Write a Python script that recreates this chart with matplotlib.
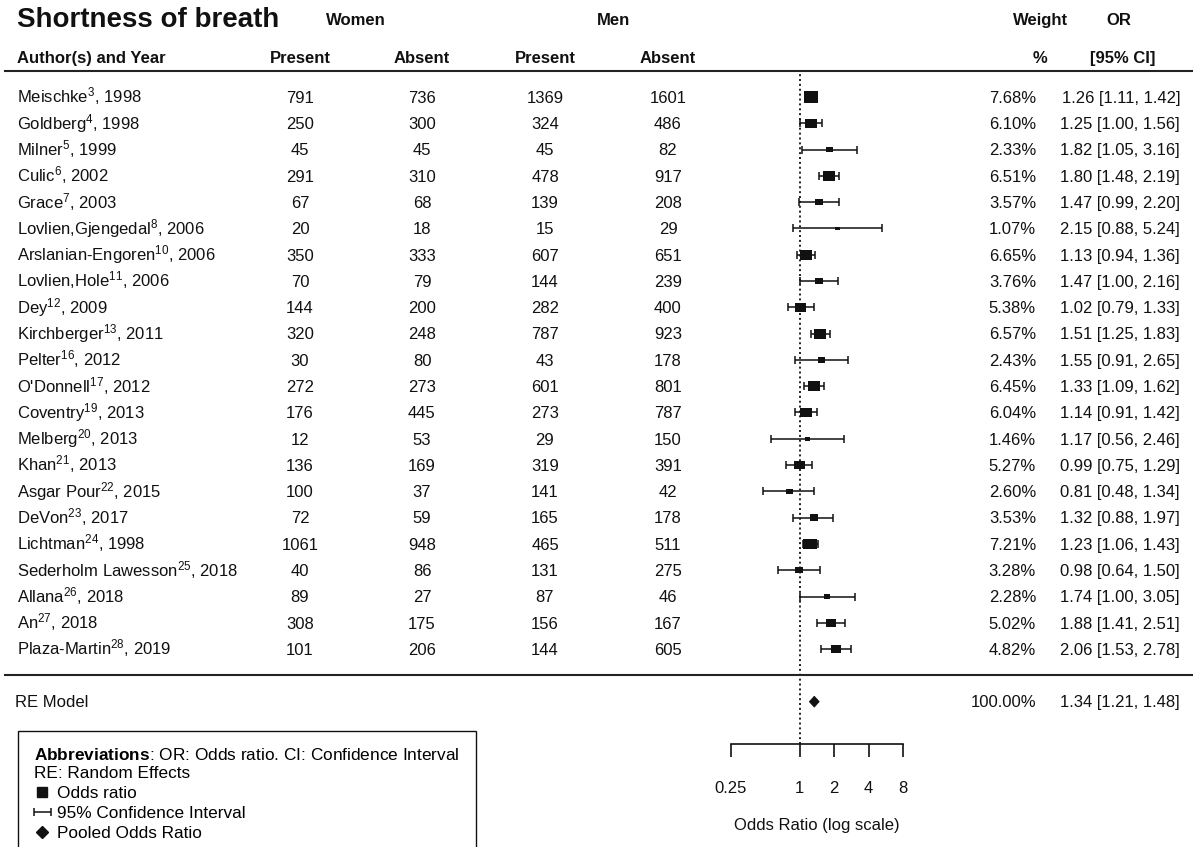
import matplotlib

matplotlib.use("Agg")
import matplotlib.pyplot as plt
import numpy as np
from matplotlib.lines import Line2D
from matplotlib.ticker import FixedLocator, NullLocator
from matplotlib.transforms import blended_transform_factory

# ---- data -----------------------------------------------------------------
authors = [
    "Meischke", "Goldberg", "Milner", "Culic", "Grace", "Lovlien,Gjengedal",
    "Arslanian-Engoren", "Lovlien,Hole", "Dey", "Kirchberger", "Pelter",
    "O'Donnell", "Coventry", "Melberg", "Khan", "Asgar Pour", "DeVon",
    "Lichtman", "Sederholm Lawesson", "Allana", "An", "Plaza-Martin",
]
ref_nums = [3, 4, 5, 6, 7, 8, 10, 11, 12, 13, 16, 17, 19, 20, 21, 22, 23, 24, 25, 26, 27, 28]
years = [1998, 1998, 1999, 2002, 2003, 2006, 2006, 2006, 2009, 2011, 2012,
         2012, 2013, 2013, 2013, 2015, 2017, 1998, 2018, 2018, 2018, 2019]

women_present = [791, 250, 45, 291, 67, 20, 350, 70, 144, 320, 30, 272, 176, 12, 136, 100, 72, 1061, 40, 89, 308, 101]
women_absent = [736, 300, 45, 310, 68, 18, 333, 79, 200, 248, 80, 273, 445, 53, 169, 37, 59, 948, 86, 27, 175, 206]
men_present = [1369, 324, 45, 478, 139, 15, 607, 144, 282, 787, 43, 601, 273, 29, 319, 141, 165, 465, 131, 87, 156, 144]
men_absent = [1601, 486, 82, 917, 208, 29, 651, 239, 400, 923, 178, 801, 787, 150, 391, 42, 178, 511, 275, 46, 167, 605]

weights = [7.68, 6.10, 2.33, 6.51, 3.57, 1.07, 6.65, 3.76, 5.38, 6.57, 2.43,
           6.45, 6.04, 1.46, 5.27, 2.60, 3.53, 7.21, 3.28, 2.28, 5.02, 4.82]
odds = [1.26, 1.25, 1.82, 1.80, 1.47, 2.15, 1.13, 1.47, 1.02, 1.51, 1.55,
        1.33, 1.14, 1.17, 0.99, 0.81, 1.32, 1.23, 0.98, 1.74, 1.88, 2.06]
ci_low = [1.11, 1.00, 1.05, 1.48, 0.99, 0.88, 0.94, 1.00, 0.79, 1.25, 0.91,
          1.09, 0.91, 0.56, 0.75, 0.48, 0.88, 1.06, 0.64, 1.00, 1.41, 1.53]
ci_high = [1.42, 1.56, 3.16, 2.19, 2.20, 5.24, 1.36, 2.16, 1.33, 1.83, 2.65,
           1.62, 1.42, 2.46, 1.29, 1.34, 1.97, 1.43, 1.50, 3.05, 2.51, 2.78]

re_weight = 100.00
re_odds, re_low, re_high = 1.34, 1.21, 1.48

x_ticks = [0.25, 1, 2, 4, 8]
x_ticklabels = ["0.25", "1", "2", "4", "8"]

# ---- style ------------------------------------------------------------------
W_PX, H_PX = 1193, 847
TEXT = "#111111"
FS = 12
ROW_PX = 26.29
FIRST_ROW_PX = 97
BASE = 5.8 / ROW_PX  # baseline offset so text sits centred on a row

plt.rcParams["font.family"] = ["Liberation Sans", "DejaVu Sans"]
plt.rcParams["mathtext.fontset"] = "custom"
plt.rcParams["mathtext.rm"] = "Liberation Sans"
plt.rcParams["mathtext.it"] = "Liberation Sans:italic"
plt.rcParams["mathtext.bf"] = "Liberation Sans:bold"
plt.rcParams["mathtext.default"] = "rm"


def fx(px):
    return px / W_PX


k = len(authors)
rows = np.arange(k, 0, -1)
last_row_px = FIRST_ROW_PX + (k - 1) * ROW_PX


def py(px):
    # pixel row in the picture -> y data coordinate
    return 1 + (last_row_px - px) / ROW_PX


fig = plt.figure(figsize=(W_PX / 100, H_PX / 100), dpi=100)
fig.patch.set_facecolor("white")

AX_L, AX_R, AX_B = 731, 903, 744
ax = fig.add_axes([fx(AX_L), 1 - AX_B / H_PX, fx(AX_R - AX_L), AX_B / H_PX])
ax.patch.set_visible(False)
ax.set_xscale("log", base=2)
ax.set_xlim(0.25, 8)
ax.set_ylim(py(AX_B), py(0))

odds_a = np.array(odds)
xerr = [odds_a - np.array(ci_low), np.array(ci_high) - odds_a]
eb = ax.errorbar(odds_a, rows, xerr=xerr, fmt="none", ecolor=TEXT, elinewidth=1.1,
                 capsize=2.9, capthick=1.1, clip_on=False, zorder=2)
for art in eb.get_children():
    art.set_clip_on(False)

# square size follows the weight (cex 0.5 .. 1.5 as in metafor)
w = np.array(weights)
cex = 0.5 + (w - w.min()) / (w.max() - w.min())
side_pt = 14.0 * cex / 1.5 * 0.72
rect = [(-0.62, -0.5), (0.62, -0.5), (0.62, 0.5), (-0.62, 0.5), (-0.62, -0.5)]
ax.scatter(odds_a, rows, s=side_pt ** 2, marker=rect, c=TEXT, linewidths=0,
           clip_on=False, zorder=3)

# pooled estimate diamond
re_row = -1
half_h = 5.5 / ROW_PX
ax.fill([re_low, re_odds, re_high, re_odds],
        [re_row, re_row + half_h, re_row, re_row - half_h],
        color=TEXT, lw=0.5, clip_on=False, zorder=3)

# reference line at OR = 1
ax.plot([1, 1], [py(AX_B), 23], color=TEXT, lw=1.3, ls=(0, (1.1, 1.6)),
        clip_on=False, zorder=1)

# horizontal rules across the table
T = blended_transform_factory(fig.transFigure, ax.transData)
for yy in (23, 0):
    ax.plot([fx(5), 1], [yy, yy], color="#222222", lw=1.5, transform=T, clip_on=False)

for side in ("top", "right", "left"):
    ax.spines[side].set_visible(False)
ax.spines["bottom"].set_linewidth(1.2)
ax.spines["bottom"].set_color(TEXT)
ax.xaxis.set_major_locator(FixedLocator(x_ticks))
ax.xaxis.set_minor_locator(NullLocator())
ax.set_xticklabels(x_ticklabels)
ax.set_yticks([])
ax.tick_params(axis="x", length=9.4, width=1.2, pad=17, labelsize=FS, colors=TEXT)
ax.set_xlabel("Odds Ratio (log scale)", fontsize=FS, color=TEXT, labelpad=16)

# ---- table text ---------------------------------------------------------------
COL_AUTHOR = 17
COL_WP, COL_WA, COL_MP, COL_MA = 300, 422, 545, 668
COL_WEIGHT_R = 1036
COL_OR_R = 1180

fig.text(fx(17), 1 - 20 / H_PX, "Shortness of breath", fontsize=20,
         fontweight="bold", va="center", color=TEXT)

h1, h2 = 24.95, 23.5
bold = dict(fontsize=FS, fontweight="bold", color=TEXT, transform=T, va="baseline")
ax.text(fx(356), h1 - BASE, "Women", ha="center", **bold)
ax.text(fx(613), h1 - BASE, "Men", ha="center", **bold)
ax.text(fx(1041), h1 - BASE, "Weight", ha="center", **bold)
ax.text(fx(1119), h1 - BASE, "OR", ha="center", **bold)
ax.text(fx(COL_AUTHOR), h2 - BASE, "Author(s) and Year", ha="left", **bold)
for cx, lab in zip((COL_WP, COL_WA, COL_MP, COL_MA), ("Present", "Absent", "Present", "Absent")):
    ax.text(fx(cx), h2 - BASE, lab, ha="center", **bold)
ax.text(fx(1040), h2 - BASE, "%", ha="center", **bold)
ax.text(fx(1123), h2 - BASE, "[95% CI]", ha="center", **bold)

reg = dict(fontsize=FS, color=TEXT, transform=T, va="baseline")
for i, r in enumerate(rows):
    yb = r - BASE
    ax.text(fx(COL_AUTHOR), yb, f"{authors[i]}$^{{{ref_nums[i]}}}$, {years[i]}", ha="left", **reg)
    for cx, vals in zip((COL_WP, COL_WA, COL_MP, COL_MA),
                        (women_present, women_absent, men_present, men_absent)):
        ax.text(fx(cx), yb, str(vals[i]), ha="center", **reg)
    ax.text(fx(COL_WEIGHT_R), yb, f"{weights[i]:.2f}%", ha="right", **reg)
    ax.text(fx(COL_OR_R), yb, f"{odds[i]:.2f} [{ci_low[i]:.2f}, {ci_high[i]:.2f}]", ha="right", **reg)

ax.text(fx(15), re_row - BASE, "RE Model", ha="left", **reg)
ax.text(fx(COL_WEIGHT_R), re_row - BASE, f"{re_weight:.2f}%", ha="right", **reg)
ax.text(fx(COL_OR_R), re_row - BASE, f"{re_odds:.2f} [{re_low:.2f}, {re_high:.2f}]", ha="right", **reg)

# ---- legend box -------------------------------------------------------------
sq = Line2D([], [], marker="s", ls="none", color=TEXT, ms=6.5)
dia = Line2D([], [], marker="D", ls="none", color=TEXT, ms=6.0)
leg = fig.legend(
    [sq, eb, dia],
    ["Odds ratio", "95% Confidence Interval", "Pooled Odds Ratio"],
    title=r"$\bf{Abbreviations}$: OR: Odds ratio. CI: Confidence Interval" + "\nRE: Random Effects",
    loc="upper left",
    bbox_to_anchor=(fx(18), 1 - 731 / H_PX),
    bbox_transform=fig.transFigure,
    borderaxespad=0,
    fontsize=12.4,
    title_fontsize=12.4,
    alignment="left",
    fancybox=False,
    framealpha=1,
    edgecolor="#111111",
    handlelength=0.9,
    handletextpad=0.4,
    labelspacing=0.3,
    borderpad=0.95,
)
leg.get_frame().set_linewidth(1.0)

fig.savefig("out.png", dpi=100)
